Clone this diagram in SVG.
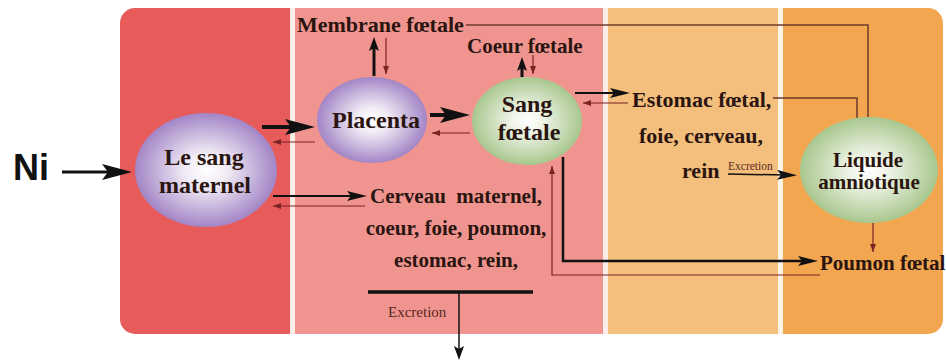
<svg xmlns="http://www.w3.org/2000/svg" width="946" height="363" viewBox="0 0 946 363">
<defs>
<style>
.t{font-family:"Liberation Serif","Times New Roman",serif;font-weight:bold;fill:#2a1510;}
.s{font-family:"Liberation Serif","Times New Roman",serif;fill:#5a2a20;}
.thick{stroke:#111;fill:none;}
.thin{stroke:#7a2323;stroke-width:1.2;fill:none;}
.link{stroke:#6e3b2b;stroke-width:1.5;fill:none;}
</style>
<radialGradient id="gp" cx="50%" cy="50%" r="50%">
<stop offset="0" stop-color="#ffffff"/>
<stop offset="0.3" stop-color="#f1ebf5"/>
<stop offset="1" stop-color="#a285c6"/>
</radialGradient>
<radialGradient id="gg" cx="50%" cy="50%" r="50%">
<stop offset="0" stop-color="#ffffff"/>
<stop offset="0.3" stop-color="#eef3e6"/>
<stop offset="1" stop-color="#a8c78e"/>
</radialGradient>
<clipPath id="outer"><rect x="120" y="8" width="823" height="326" rx="15"/></clipPath>
<marker id="big" viewBox="0 0 30 16" markerWidth="30" markerHeight="16" refX="10" refY="8" orient="auto" markerUnits="userSpaceOnUse"><path d="M0,0 L30,8 L0,16 L6,8 Z" fill="#111"/></marker>
<marker id="med" viewBox="0 0 20 10" markerWidth="20" markerHeight="10" refX="8" refY="5" orient="auto" markerUnits="userSpaceOnUse"><path d="M0,0 L20,5 L0,10 L4,5 Z" fill="#111"/></marker>
<marker id="up" viewBox="0 0 14 10" markerWidth="14" markerHeight="10" refX="5" refY="5" orient="auto" markerUnits="userSpaceOnUse"><path d="M0,0 L14,5 L0,10 L3,5 Z" fill="#111"/></marker>
<marker id="sm" viewBox="0 0 8 6" markerWidth="8" markerHeight="6" refX="8" refY="3" orient="auto" markerUnits="userSpaceOnUse"><path d="M0,0 L8,3 L0,6 Z" fill="#7a2323"/></marker>
</defs>
<rect width="946" height="363" fill="#ffffff"/>
<g id="panels" clip-path="url(#outer)">
<rect x="120" y="8" width="170" height="326" fill="#e85b5b"/>
<rect x="290" y="8" width="5" height="326" fill="#fbeee8"/>
<rect x="295" y="8" width="308" height="326" fill="#f0948f"/>
<rect x="603" y="8" width="5" height="326" fill="#fbeee8"/>
<rect x="608" y="8" width="170" height="326" fill="#f4bf7c"/>
<rect x="778" y="8" width="5" height="326" fill="#fdf3e6"/>
<rect x="783" y="8" width="160" height="326" fill="#f2a650"/>
</g>
<g id="connectors">
<line class="thick" x1="62" y1="172" x2="112" y2="172" stroke-width="3" marker-end="url(#big)"/>
<line class="thick" x1="262" y1="127" x2="295" y2="127" stroke-width="4" marker-end="url(#big)"/>
<line class="thin" x1="315" y1="142" x2="273" y2="142" marker-end="url(#sm)"/>
<line class="thick" x1="273" y1="196" x2="355" y2="196" stroke-width="2" marker-end="url(#med)"/>
<line class="thin" x1="365" y1="206" x2="273" y2="206" marker-end="url(#sm)"/>
<line class="thick" x1="430" y1="115" x2="450" y2="115" stroke-width="4" marker-end="url(#big)"/>
<line class="thin" x1="470" y1="133" x2="432" y2="133" marker-end="url(#sm)"/>
<line class="thick" x1="374" y1="76" x2="374" y2="46" stroke-width="3" marker-end="url(#up)"/>
<line class="thin" x1="386" y1="38" x2="386" y2="74" marker-end="url(#sm)"/>
<line class="thick" x1="522" y1="77" x2="522" y2="66" stroke-width="3" marker-end="url(#up)"/>
<line class="thin" x1="533" y1="55" x2="533" y2="74" marker-end="url(#sm)"/>
<line class="thick" x1="575" y1="93" x2="618" y2="93" stroke-width="2" marker-end="url(#med)"/>
<line class="thin" x1="628" y1="103" x2="583" y2="103" marker-end="url(#sm)"/>
<polyline class="link" points="466,25 868,25 868,118"/>
<polyline class="link" points="773,98 857,98 857,120"/>
<line class="thick" x1="728" y1="174" x2="785" y2="175" stroke-width="1.5" marker-end="url(#med)"/>
<polyline class="thick" points="563,157 563,261 806,261" stroke-width="2.5" marker-end="url(#med)"/>
<polyline class="thin" points="820,275 552,275 552,166" marker-end="url(#sm)"/>
<line class="thin" x1="873" y1="223" x2="873" y2="252" marker-end="url(#sm)"/>
<line class="thick" x1="368" y1="292" x2="533" y2="292" stroke-width="3.5"/>
<line class="thick" x1="459" y1="292" x2="459" y2="351" stroke-width="1.5" marker-end="url(#up)"/>
</g>
<g id="ni"><text x="13" y="180" font-family="'Liberation Sans',Arial,sans-serif" font-weight="bold" font-size="36" fill="#111">Ni</text></g>
<g id="sang-maternel">
<ellipse cx="206" cy="170" rx="71" ry="57" fill="url(#gp)"/>
<text class="t" x="204" y="165" font-size="24" text-anchor="middle">Le sang</text>
<text class="t" x="205" y="193" font-size="24" text-anchor="middle">maternel</text>
</g>
<g id="placenta">
<ellipse cx="372" cy="120" rx="55" ry="43" fill="url(#gp)"/>
<text class="t" x="376" y="128" font-size="24" text-anchor="middle">Placenta</text>
</g>
<g id="sang-foetale">
<ellipse cx="527" cy="121" rx="55" ry="44" fill="url(#gg)"/>
<text class="t" x="527" y="112" font-size="24" text-anchor="middle">Sang</text>
<text class="t" x="529" y="140" font-size="24" text-anchor="middle">fœtale</text>
</g>
<g id="liquide-amniotique">
<ellipse cx="869" cy="170" rx="69" ry="53" fill="url(#gg)"/>
<text class="t" x="868" y="167" font-size="21" text-anchor="middle">Liquide</text>
<text class="t" x="869" y="189" font-size="21" text-anchor="middle">amniotique</text>
</g>
<g id="membrane-foetale"><text class="t" x="297" y="32" font-size="22">Membrane fœtale</text></g>
<g id="coeur-foetale"><text class="t" x="467" y="53" font-size="21">Coeur fœtale</text></g>
<g id="organes-maternels">
<text class="t" x="370" y="203" font-size="21" xml:space="preserve">Cerveau  maternel,</text>
<text class="t" x="456" y="235" font-size="21" text-anchor="middle">coeur, foie, poumon,</text>
<text class="t" x="456" y="267" font-size="21" text-anchor="middle">estomac, rein,</text>
<text class="s" x="388" y="317" font-size="15">Excretion</text>
</g>
<g id="organes-foetaux">
<text class="t" x="632" y="107" font-size="22">Estomac fœtal,</text>
<text class="t" x="701" y="143" font-size="22" text-anchor="middle">foie, cerveau,</text>
<text class="t" x="682" y="178" font-size="22">rein</text>
<text class="s" x="728" y="170" font-size="11.5">Excretion</text>
</g>
<g id="poumon-foetal"><text class="t" x="820" y="270" font-size="21">Poumon fœtal</text></g>
</svg>
